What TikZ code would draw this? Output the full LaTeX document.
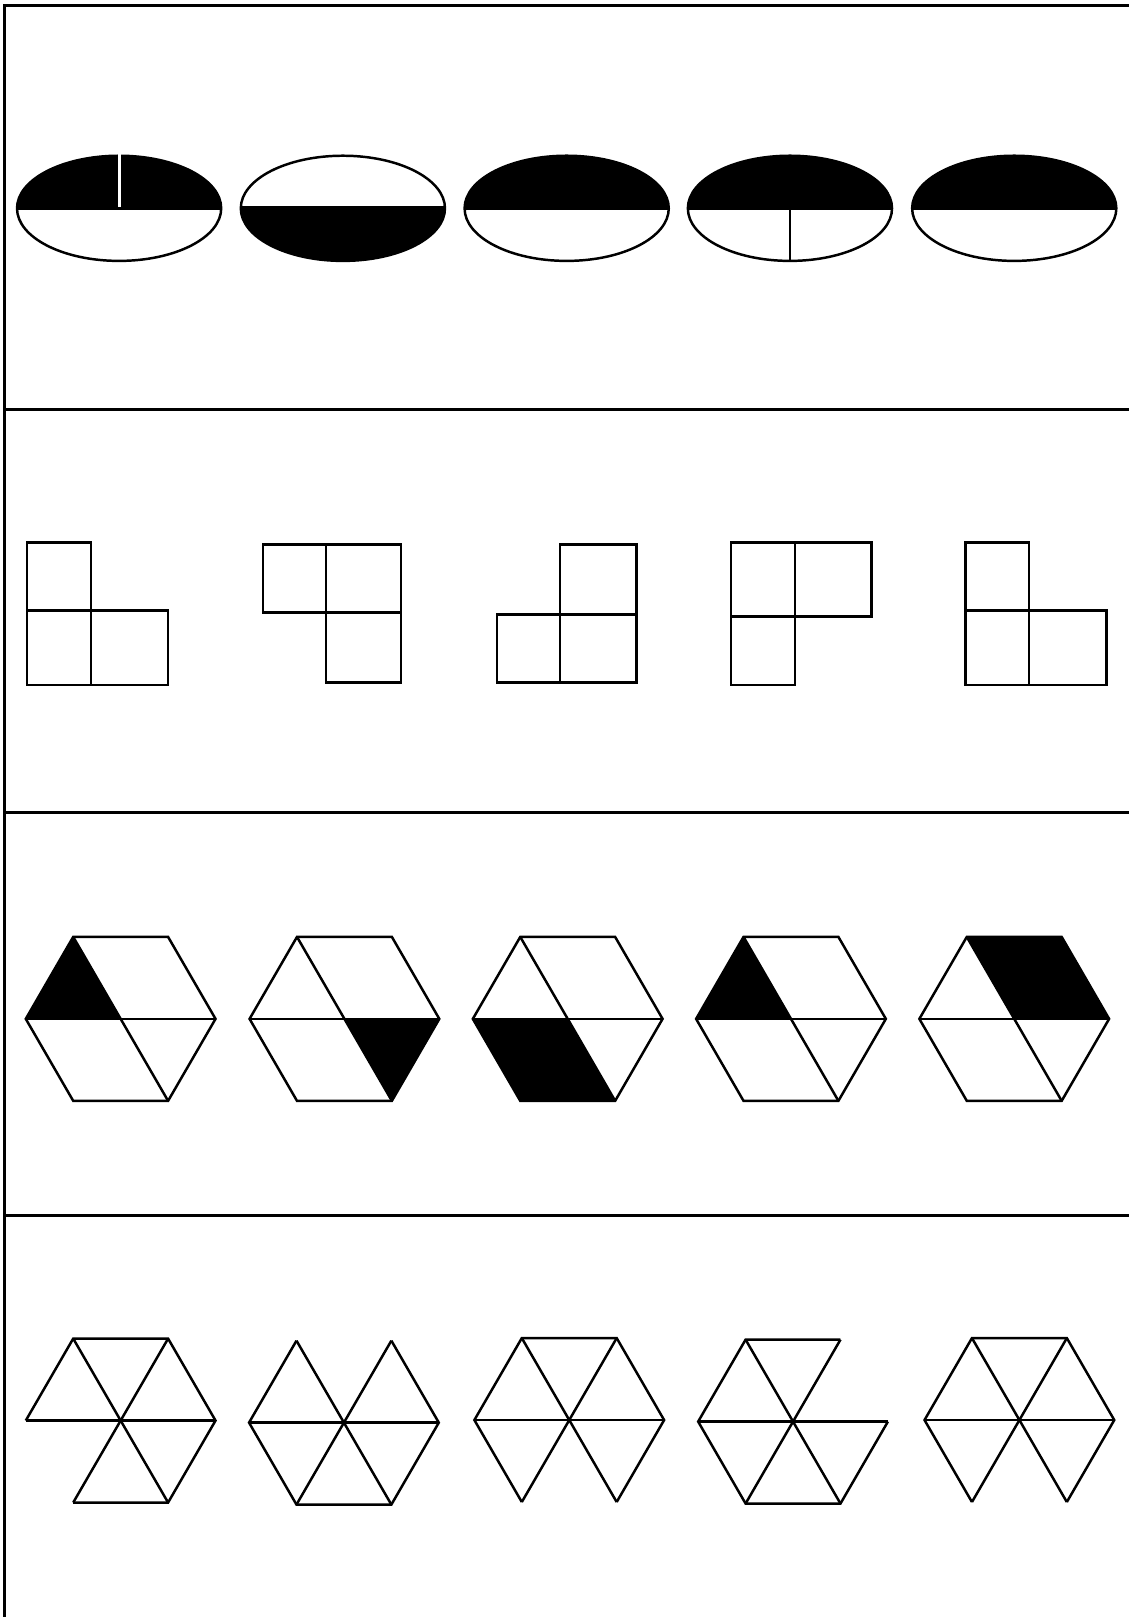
\documentclass[tikz,border=0pt]{standalone}

\begin{document}
\begin{tikzpicture}[
    x=1pt, y=-1pt,
    frame/.style={line width=2.9pt},
    outline/.style={line width=2.4pt, line join=miter},
    gapline/.style={draw=white, line width=2.8pt}
]
\useasboundingbox (0,0) rectangle (1094,1568);

% frame and rows
\draw[frame] (1100,5.3) -- (4.4,5.3) -- (4.4,1575);
\draw[frame] (4.4,397) -- (1100,397);
\draw[frame] (4.4,788) -- (1100,788);
\draw[frame] (4.4,1179) -- (1100,1179);

% row 1: ovals
\coordinate (ovalA) at (115.5,202);
\coordinate (ovalB) at (332.5,202);
\coordinate (ovalC) at (549.5,202);
\coordinate (ovalD) at (766,202);
\coordinate (ovalE) at (983.5,202);

\begin{scope}
  \clip (ovalA) ellipse (99pt and 51pt);
  \fill (ovalA) ++(-100,-52) rectangle ++(200,52);
\end{scope}
\draw[outline] (ovalA) ellipse (99pt and 51pt);
\draw[outline] (ovalA) ++(-99,0) -- ++(198,0);
\draw[gapline] (116,148) -- (116,200.6);

\begin{scope}
  \clip (ovalB) ellipse (99pt and 51pt);
  \fill (ovalB) ++(-100,-1) rectangle ++(200,53);
\end{scope}
\draw[outline] (ovalB) ellipse (99pt and 51pt);
\draw[outline] (ovalB) ++(-99,-1) -- ++(198,0);

\begin{scope}
  \clip (ovalC) ellipse (99pt and 51pt);
  \fill (ovalC) ++(-100,-52) rectangle ++(200,52);
\end{scope}
\draw[outline] (ovalC) ellipse (99pt and 51pt);
\draw[outline] (ovalC) ++(-99,0) -- ++(198,0);

\begin{scope}
  \clip (ovalD) ellipse (99pt and 51pt);
  \fill (ovalD) ++(-100,-52) rectangle ++(200,52);
\end{scope}
\draw[outline] (ovalD) ellipse (99pt and 51pt);
\draw[outline] (ovalD) ++(-99,0) -- ++(198,0);
\draw[outline] (ovalD) -- ++(0,50);

\begin{scope}
  \clip (ovalE) ellipse (99pt and 51pt);
  \fill (ovalE) ++(-100,-52) rectangle ++(200,52);
\end{scope}
\draw[outline] (ovalE) ellipse (99pt and 51pt);
\draw[outline] (ovalE) ++(-99,0) -- ++(198,0);

% row 2: squares
\draw[outline] (26,526) rectangle (88,592);
\draw[outline] (26,592) rectangle (88,664);
\draw[outline] (88,592) rectangle (163,664);

\draw[outline] (255,528) rectangle (316,594);
\draw[outline] (316,528) rectangle (389,594);
\draw[outline] (316,594) rectangle (389,662);

\draw[outline] (543,528) rectangle (617,596);
\draw[outline] (482,596) rectangle (543,662);
\draw[outline] (543,596) rectangle (617,662);

\draw[outline] (709,526) rectangle (771,598);
\draw[outline] (771,526) rectangle (845,598);
\draw[outline] (709,598) rectangle (771,664);

\draw[outline] (936,526) rectangle (998,592);
\draw[outline] (936,592) rectangle (998,664);
\draw[outline] (998,592) rectangle (1073,664);

% row 3: shaded hexagons
\coordinate (hexA) at (117,988);
\coordinate (hexB) at (334,988);
\coordinate (hexC) at (550.5,988);
\coordinate (hexD) at (767,988);
\coordinate (hexE) at (983.5,988);

\begin{scope}[shift={(hexA)}]
  \fill (-46,-79.5) -- (0,0) -- (-92,0) -- cycle;
  \draw[outline] (-46,-79.5) -- (46,-79.5) -- (92,0) -- (46,79.5) -- (-46,79.5) -- (-92,0) -- cycle;
  \draw[outline] (-92,0) -- (92,0);
  \draw[outline] (-46,-79.5) -- (46,79.5);
\end{scope}

\begin{scope}[shift={(hexB)}]
  \fill (0,0) -- (92,0) -- (46,79.5) -- cycle;
  \draw[outline] (-46,-79.5) -- (46,-79.5) -- (92,0) -- (46,79.5) -- (-46,79.5) -- (-92,0) -- cycle;
  \draw[outline] (-92,0) -- (92,0);
  \draw[outline] (-46,-79.5) -- (46,79.5);
\end{scope}

\begin{scope}[shift={(hexC)}]
  \fill (-92,0) -- (0,0) -- (46,79.5) -- (-46,79.5) -- cycle;
  \draw[outline] (-46,-79.5) -- (46,-79.5) -- (92,0) -- (46,79.5) -- (-46,79.5) -- (-92,0) -- cycle;
  \draw[outline] (-92,0) -- (92,0);
  \draw[outline] (-46,-79.5) -- (46,79.5);
\end{scope}

\begin{scope}[shift={(hexD)}]
  \fill (-46,-79.5) -- (0,0) -- (-92,0) -- cycle;
  \draw[outline] (-46,-79.5) -- (46,-79.5) -- (92,0) -- (46,79.5) -- (-46,79.5) -- (-92,0) -- cycle;
  \draw[outline] (-92,0) -- (92,0);
  \draw[outline] (-46,-79.5) -- (46,79.5);
\end{scope}

\begin{scope}[shift={(hexE)}]
  \fill (-46,-79.5) -- (46,-79.5) -- (92,0) -- (0,0) -- cycle;
  \draw[outline] (-46,-79.5) -- (46,-79.5) -- (92,0) -- (46,79.5) -- (-46,79.5) -- (-92,0) -- cycle;
  \draw[outline] (-92,0) -- (92,0);
  \draw[outline] (-46,-79.5) -- (46,79.5);
\end{scope}

% row 4: triangle hexagons
\coordinate (triA) at (117,1377.5);
\coordinate (triB) at (333.5,1379.5);
\coordinate (triC) at (552,1377);
\coordinate (triD) at (769,1378.5);
\coordinate (triE) at (988.5,1377);

\begin{scope}[shift={(triA)}]
  \draw[outline] (-92,0) -- (-46,-79.5) -- (46,-79.5) -- (92,0) -- (46,79.5) -- (-46,79.5);
  \draw[outline] (-92,0) -- (92,0);
  \draw[outline] (-46,-79.5) -- (46,79.5);
  \draw[outline] (46,-79.5) -- (-46,79.5);
\end{scope}

\begin{scope}[shift={(triB)}]
  \draw[outline] (46,-79.5) -- (92,0) -- (46,79.5) -- (-46,79.5) -- (-92,0) -- (-46,-79.5);
  \draw[outline] (-92,0) -- (92,0);
  \draw[outline] (-46,-79.5) -- (46,79.5);
  \draw[outline] (46,-79.5) -- (-46,79.5);
\end{scope}

\begin{scope}[shift={(triC)}]
  \draw[outline] (-46,79.5) -- (-92,0) -- (-46,-79.5) -- (46,-79.5) -- (92,0) -- (46,79.5);
  \draw[outline] (-92,0) -- (92,0);
  \draw[outline] (-46,-79.5) -- (46,79.5);
  \draw[outline] (46,-79.5) -- (-46,79.5);
\end{scope}

\begin{scope}[shift={(triD)}]
  \draw[outline] (92,0) -- (46,79.5) -- (-46,79.5) -- (-92,0) -- (-46,-79.5) -- (46,-79.5);
  \draw[outline] (-92,0) -- (92,0);
  \draw[outline] (-46,-79.5) -- (46,79.5);
  \draw[outline] (46,-79.5) -- (-46,79.5);
\end{scope}

\begin{scope}[shift={(triE)}]
  \draw[outline] (-46,79.5) -- (-92,0) -- (-46,-79.5) -- (46,-79.5) -- (92,0) -- (46,79.5);
  \draw[outline] (-92,0) -- (92,0);
  \draw[outline] (-46,-79.5) -- (46,79.5);
  \draw[outline] (46,-79.5) -- (-46,79.5);
\end{scope}
\end{tikzpicture}
\end{document}
